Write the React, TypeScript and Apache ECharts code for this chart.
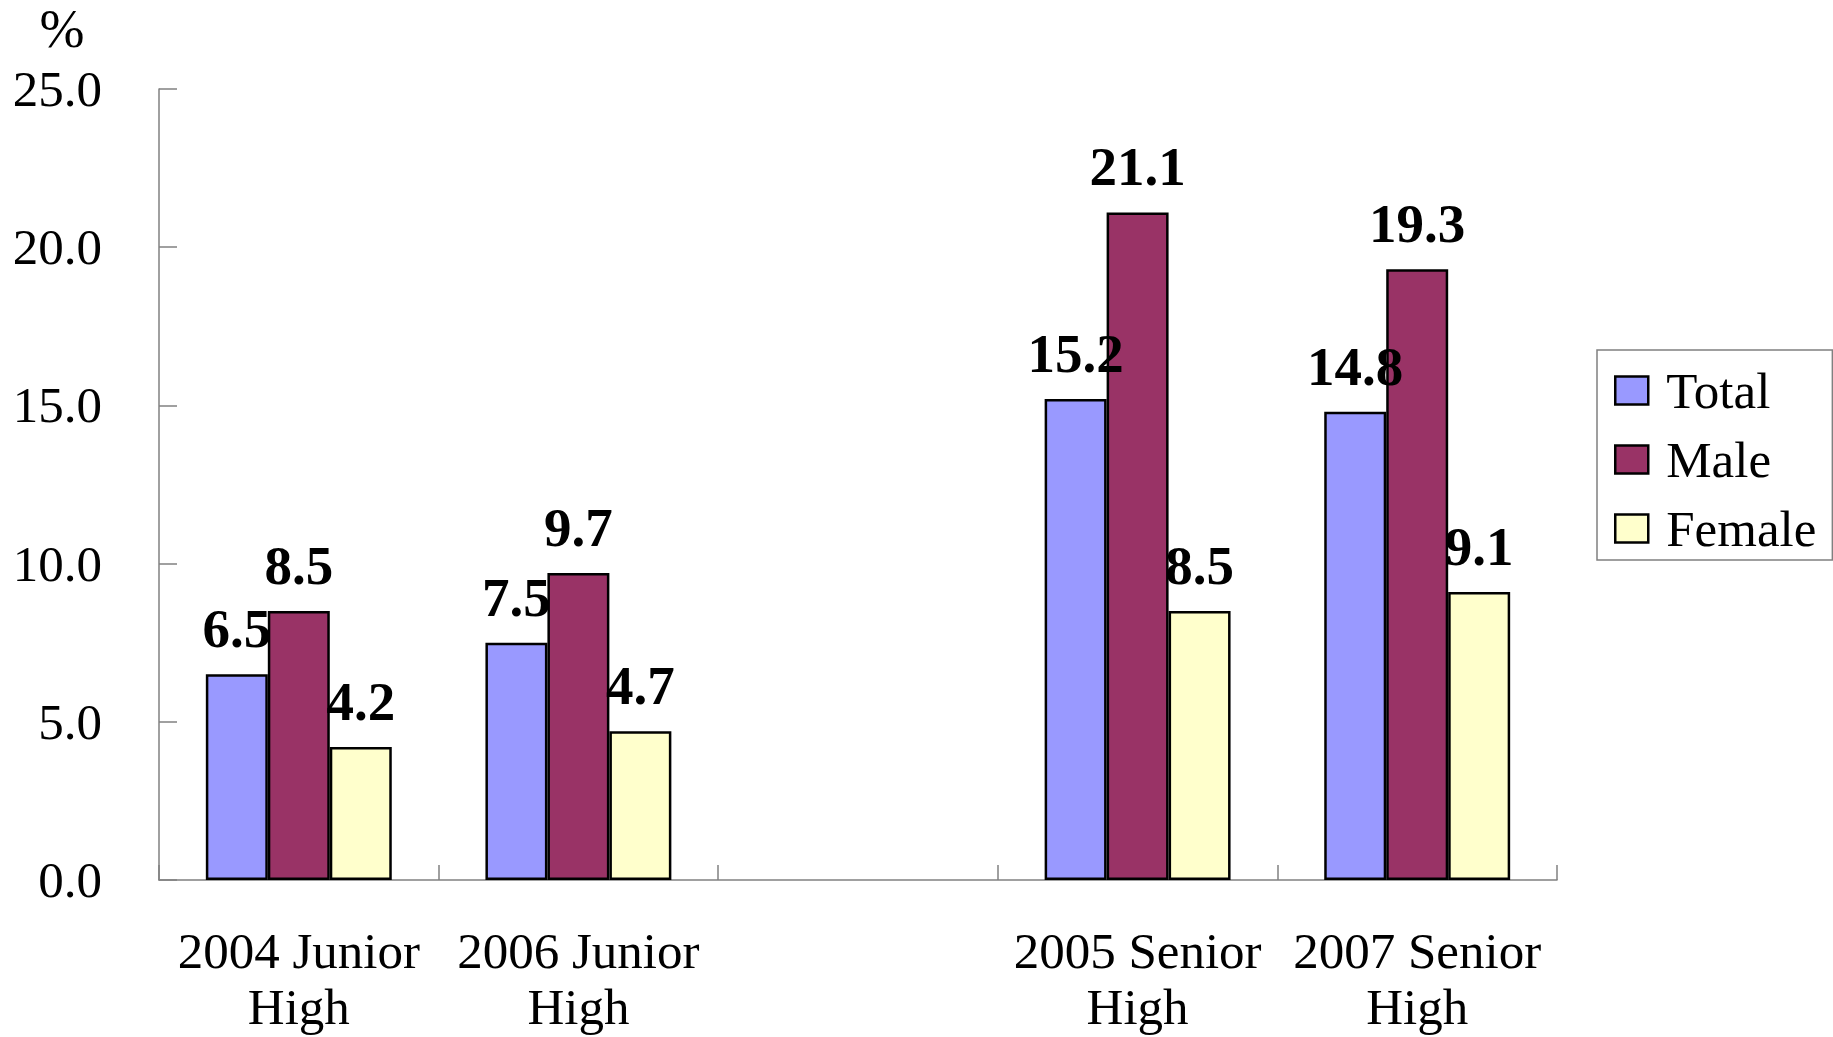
import React, { useEffect, useRef } from "react";
import * as echarts from "echarts";

const categories = ["2004 Junior\nHigh", "2006 Junior\nHigh", "", "2005 Senior\nHigh", "2007 Senior\nHigh"];
const totalValues = [6.5, 7.5, null, 15.2, 14.8];
const maleValues = [8.5, 9.7, null, 21.1, 19.3];
const femaleValues = [4.2, 4.7, null, 8.5, 9.1];
const seriesNames = ["Total", "Male", "Female"];
const seriesColors = ["#9999FF", "#993366", "#FFFFCC"];
const unitLabel = "%";

const FONT = "'Liberation Serif', 'Times New Roman', serif";

export default function App() {
  const ref = useRef<HTMLDivElement>(null);
  useEffect(() => {
    if (!ref.current) return;
    const chart = echarts.init(ref.current, undefined, { renderer: "svg" });
    const values = [totalValues, maleValues, femaleValues];
    chart.setOption({
      animation: false,
      backgroundColor: "#ffffff",
      textStyle: { fontFamily: FONT },
      grid: { left: 159, right: 276, top: 89, bottom: 157, containLabel: false, outerBoundsMode: "none" },
      graphic: [
        {
          type: "text",
          x: 62,
          y: 29,
          style: {
            text: unitLabel,
            font: `54px ${FONT}`,
            fill: "#000",
            textAlign: "center",
            textVerticalAlign: "middle",
          },
        },
      ],
      legend: {
        orient: "vertical",
        left: 1597,
        top: 350,
        data: seriesNames,
        itemWidth: 33,
        itemHeight: 28,
        itemGap: 18,
        padding: [15, 16, 6, 17],
        borderColor: "#808080",
        borderWidth: 1.5,
        borderRadius: 0,
        backgroundColor: "#fff",
        icon: "rect",
        itemStyle: { borderColor: "#000", borderWidth: 2.5 },
        textStyle: {
          fontFamily: FONT,
          fontSize: 51,
          lineHeight: 49,
          color: "#000",
          padding: [0, 0, 0, 13],
        },
      },
      xAxis: {
        type: "category",
        data: categories,
        axisLine: { lineStyle: { color: "#808080", width: 1.5 } },
        axisTick: { show: true, inside: true, length: 15, lineStyle: { color: "#808080", width: 1.5 } },
        axisLabel: {
          interval: 0,
          margin: 43,
          fontFamily: FONT,
          fontSize: 51,
          lineHeight: 56,
          color: "#000",
        },
      },
      yAxis: {
        type: "value",
        min: 0,
        max: 25,
        interval: 5,
        splitLine: { show: false },
        axisLine: { show: true, lineStyle: { color: "#808080", width: 1.5 } },
        axisTick: { show: true, inside: true, length: 18, lineStyle: { color: "#808080", width: 1.5 } },
        axisLabel: {
          margin: 57,
          fontFamily: FONT,
          fontSize: 51,
          color: "#000",
          formatter: (v: number) => v.toFixed(1),
        },
      },
      series: seriesNames.map((name, i) => ({
        name,
        type: "bar",
        data: values[i],
        barGap: "0%",
        barCategoryGap: "33.5%",
        itemStyle: { color: seriesColors[i], borderColor: "#000", borderWidth: 2.5 },
        label: {
          show: true,
          position: "top",
          distance: 18,
          fontFamily: FONT,
          fontSize: 55,
          fontWeight: "bold",
          color: "#000",
          formatter: (p: any) => (p.value == null ? "" : Number(p.value).toFixed(1)),
        },
      })),
    });
    return () => chart.dispose();
  }, []);
  return <div ref={ref} style={{ width: 1833, height: 1037, position: "absolute", left: 0, top: 0 }} />;
}
